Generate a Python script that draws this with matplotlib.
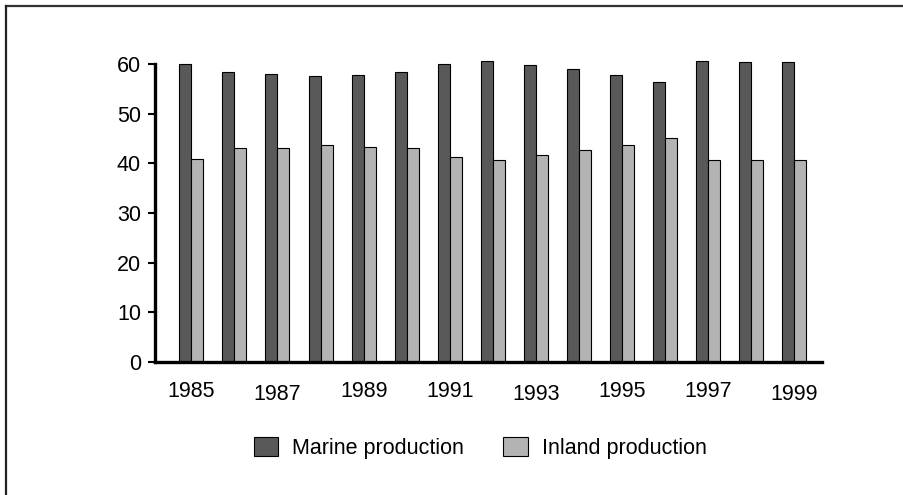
import numpy as np
import matplotlib
matplotlib.use("Agg")
import matplotlib.pyplot as plt
from matplotlib.lines import Line2D

plt.rcParams['font.family'] = ['Liberation Sans', 'DejaVu Sans']

years = list(range(1985, 2000))
marine = [60.1, 58.4, 58.0, 57.6, 57.8, 58.4, 59.9, 60.7, 59.8, 58.9, 57.8, 56.4, 60.6, 60.5, 60.5]
inland = [40.9, 43.0, 43.1, 43.6, 43.3, 43.1, 41.3, 40.7, 41.7, 42.6, 43.6, 45.2, 40.7, 40.7, 40.7]
labeled_years = [1985, 1987, 1989, 1991, 1993, 1995, 1997, 1999]
lowered = [1987, 1993, 1999]

fig = plt.figure(figsize=(9.04, 4.95), dpi=100)
ax = fig.add_axes([155 / 904, 1 - 362 / 495, 667 / 904, 298 / 495])

x = np.arange(len(years))
w = 0.279
ax.bar(x - w / 2, marine, w, color='#595959', edgecolor='black', linewidth=0.8,
       label='Marine production', clip_on=False)
ax.bar(x + w / 2, inland, w, color='#b3b3b3', edgecolor='black', linewidth=0.8,
       label='Inland production', clip_on=False)

ax.set_xlim(-0.843, 14.64)
ax.set_ylim(0, 60)
ax.set_yticks(range(0, 61, 10))
ax.tick_params(axis='y', length=5, width=1.5, pad=5, labelsize=15.5, direction='out')
ax.set_xticks([])

for s in ['top', 'right']:
    ax.spines[s].set_visible(False)
ax.spines['left'].set_linewidth(2.4)
ax.spines['bottom'].set_linewidth(2.4)

# year labels, a few of them sit slightly lower like in the original
for yr in labeled_years:
    i = years.index(yr)
    dy = -16 if yr in lowered else -14
    ax.annotate(str(yr), xy=(i, 0), xycoords=('data', 'axes fraction'),
                xytext=(0, dy), textcoords='offset points',
                ha='center', va='top', fontsize=15.5)

fig.legend(loc='center', bbox_to_anchor=(480 / 904, 1 - 448 / 495), ncol=2,
           frameon=False, fontsize=15.5, handlelength=1.15, handleheight=1.0,
           handletextpad=0.65, columnspacing=1.8)

# outer frame (only top and left edges visible)
fig.add_artist(Line2D([6.5 / 904, 1], [1 - 5.5 / 495, 1 - 5.5 / 495], color='#333333', lw=1.6))
fig.add_artist(Line2D([6.5 / 904, 6.5 / 904], [0, 1 - 5.5 / 495], color='#222222', lw=1.6))

fig.savefig('out.png', dpi=100)
